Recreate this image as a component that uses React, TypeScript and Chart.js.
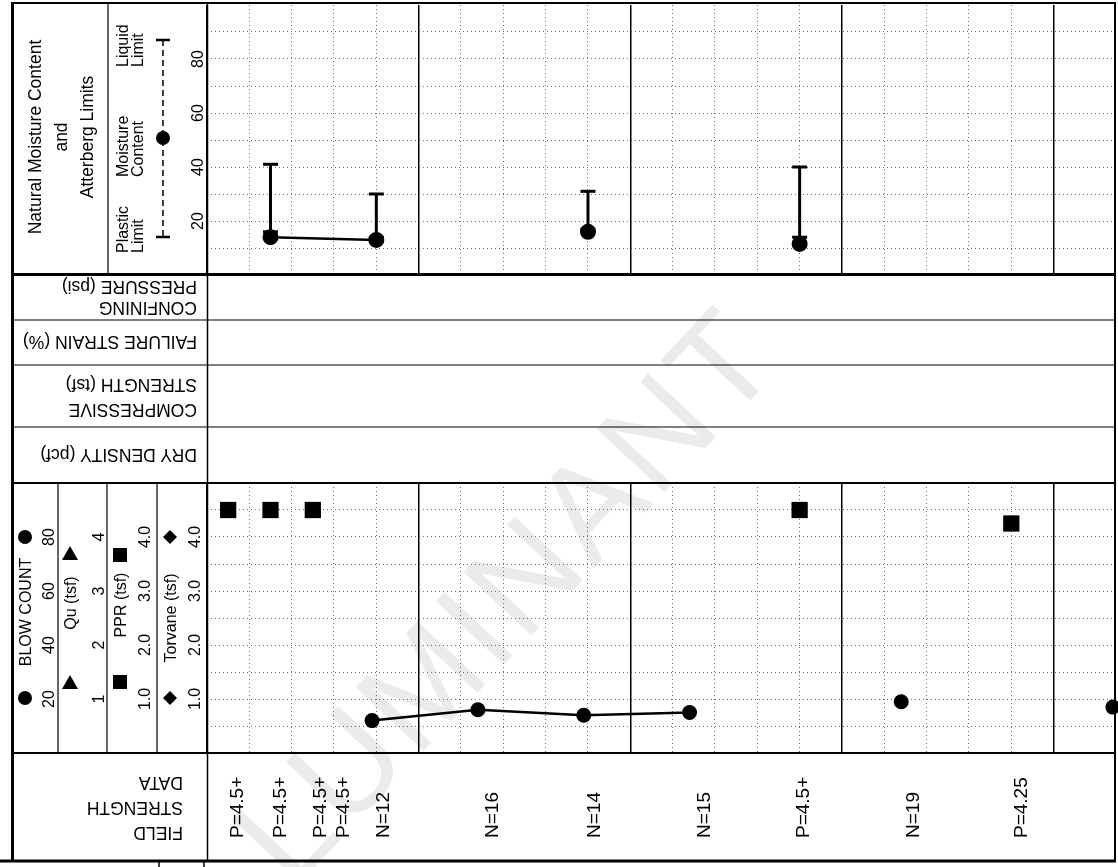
import React, { useEffect, useRef } from 'react';
import { Chart, registerables } from 'chart.js';
Chart.register(...registerables);

const FONT = 'Arial, "Liberation Sans", Helvetica, sans-serif';

// ---------------- data ----------------
// Natural moisture content & Atterberg limits (depth in ft)
const mcDepth = [1.5, 4.0, 9.0, 14.0];
const moistureContent = [14, 13, 16, 11.5];
const plasticLimit = [16, 14, 17, 14];
const liquidLimit = [41, 30, 31, 40];

// Blow count (N)
const blowDepth = [3.9, 6.4, 8.9, 11.4, 16.4, 21.4];
const blowCount = [12, 16, 14, 15, 19, 17];

// Pocket penetrometer (tsf)
const pprDepth = [0.5, 1.5, 2.5, 14.0, 19.0];
const pprValue = [4.5, 4.5, 4.5, 4.5, 4.25];

// Field strength data labels
const fieldDepth = [0.72, 1.75, 2.68, 3.22, 4.17, 6.74, 9.17, 11.76, 14.1, 16.7, 19.25];
const fieldLabels = ['P=4.5+', 'P=4.5+', 'P=4.5+', 'P=4.5+', 'N=12', 'N=16', 'N=14', 'N=15', 'P=4.5+', 'N=19', 'P=4.25'];

// axis settings / tick labels
const depthMin = 0;
const depthMax = 21.45;
const moistureTickLabels = [20, 40, 60, 80];
const blowTickLabels = [20, 40, 60, 80];
const quTickLabels = [1, 2, 3, 4];
const pprTickLabels = [1, 2, 3, 4];
const torvaneTickLabels = [1, 2, 3, 4];

// ---------------- helpers ----------------
const CLEAR = 'rgba(0,0,0,0)';
const DOT = '#6a6a6a';
const rnd = (v: number) => Math.round(v * 1000) / 1000;

const tickFont = { family: FONT, size: 16 };

const xMinorScale = () => ({
  type: 'linear',
  min: depthMin,
  max: depthMax,
  ticks: { display: false, stepSize: 1 },
  grid: {
    drawTicks: false,
    lineWidth: 1,
    color: (c: any) => {
      const v = rnd(c.tick ? c.tick.value : 0);
      if (!Number.isInteger(v) || v % 5 === 0) return CLEAR;
      return DOT;
    },
  },
  border: { display: false, dash: [1, 3] },
  afterFit: (s: any) => { s.height = 0; s.paddingLeft = 0; s.paddingRight = 0; },
});

const xMajorScale = () => ({
  type: 'linear',
  min: depthMin,
  max: depthMax,
  ticks: { display: false, stepSize: 5 },
  grid: {
    drawTicks: false,
    lineWidth: 1.5,
    color: (c: any) => {
      const v = rnd(c.tick ? c.tick.value : 0);
      return v % 5 === 0 ? '#000' : CLEAR;
    },
  },
  border: { display: false },
  afterFit: (s: any) => { s.height = 0; s.paddingLeft = 0; s.paddingRight = 0; },
});

const yAxis = (opts: any) => ({
  type: 'linear',
  position: 'left',
  weight: opts.weight,
  min: opts.min,
  max: opts.max,
  ticks: {
    stepSize: opts.step,
    autoSkip: false,
    minRotation: 90,
    maxRotation: 90,
    crossAlign: 'center',
    padding: opts.padding || 0,
    color: '#000',
    font: tickFont,
    callback: opts.callback,
  },
  grid: opts.grid
    ? {
        drawTicks: false,
        lineWidth: 1,
        color: (c: any) => {
          const v = rnd(c.tick ? c.tick.value : 0);
          return v === opts.min || v === opts.max ? CLEAR : DOT;
        },
      }
    : { display: false, drawTicks: false },
  border: { display: false, dash: [1, 3] },
  afterFit: (s: any) => { s.width = opts.width; s.paddingTop = 0; s.paddingBottom = 0; },
});

const gapSegment = (c: any) => (c.p1.parsed.x - c.p0.parsed.x > 3 ? CLEAR : '#000');

const fieldLabelPlugin = {
  id: 'fieldLabels',
  afterDraw(chart: any) {
    const { ctx } = chart;
    const x = chart.scales.x;
    ctx.save();
    ctx.font = `19px ${FONT}`;
    ctx.fillStyle = '#000';
    ctx.textAlign = 'left';
    ctx.textBaseline = 'middle';
    fieldDepth.forEach((d, i) => {
      ctx.save();
      ctx.translate(x.getPixelForValue(d), 838 - 480);
      ctx.rotate(-Math.PI / 2);
      ctx.fillText(fieldLabels[i], 0, 0);
      ctx.restore();
    });
    ctx.restore();
  },
};

// ---------------- static frame pieces ----------------
const L = (x1: number, y1: number, x2: number, y2: number, w: number, k: string) => (
  <line key={k} x1={x1} y1={y1} x2={x2} y2={y2} stroke="#000" strokeWidth={w} />
);

const flipText = (t: string, xr: number, y: number, k: string, size = 17.5) => (
  <text key={k} transform={`translate(${xr},${y}) rotate(180)`} textAnchor="start" dominantBaseline="central" fontSize={size}>{t}</text>
);

const upText = (t: string, x: number, y: number, k: string, size: number, anchor = 'middle') => (
  <text key={k} transform={`translate(${x},${y}) rotate(-90)`} textAnchor={anchor} dominantBaseline="central" fontSize={size}>{t}</text>
);

export default function App() {
  const topRef = useRef<HTMLCanvasElement>(null);
  const botRef = useRef<HTMLCanvasElement>(null);

  useEffect(() => {
    const attRange = mcDepth.flatMap((d, i) => [
      { x: d, y: plasticLimit[i] },
      { x: d, y: liquidLimit[i] },
    ]);
    const top = new Chart(topRef.current as HTMLCanvasElement, {
      type: 'line',
      data: {
        datasets: [
          {
            type: 'line',
            label: 'Moisture Content',
            data: mcDepth.map((d, i) => ({ x: d, y: moistureContent[i] })),
            borderColor: '#000',
            borderWidth: 2.5,
            pointRadius: 8,
            pointBackgroundColor: '#000',
            pointBorderColor: '#000',
            pointBorderWidth: 0,
            segment: { borderColor: gapSegment },
            order: 0,
            clip: false,
          } as any,
          {
            type: 'line',
            label: 'Atterberg range',
            data: attRange,
            borderColor: '#000',
            borderWidth: 3,
            pointRadius: 0,
            segment: { borderColor: (c: any) => (c.p0.parsed.x === c.p1.parsed.x ? '#000' : CLEAR) },
            order: 2,
          } as any,
          {
            type: 'scatter',
            label: 'Liquid Limit',
            data: mcDepth.map((d, i) => ({ x: d, y: liquidLimit[i] })),
            pointStyle: 'line',
            pointRadius: 7.5,
            pointBorderWidth: 3,
            pointBorderColor: '#000',
            showLine: false,
            order: 1,
          } as any,
          {
            type: 'scatter',
            label: 'Plastic Limit',
            data: mcDepth.map((d, i) => ({ x: d, y: plasticLimit[i] })),
            pointStyle: 'line',
            pointRadius: 7.5,
            pointBorderWidth: 3,
            pointBorderColor: '#000',
            showLine: false,
            order: 1,
          } as any,
        ],
      },
      options: {
        responsive: false,
        animation: false,
        events: [],
        layout: { autoPadding: false, padding: { left: 12, right: 3, top: 5, bottom: 5 } },
        plugins: { legend: { display: false }, tooltip: { enabled: false } },
        scales: {
          x: xMinorScale(),
          xMajor: xMajorScale(),
          y: yAxis({
            weight: 1, min: 0, max: 100, step: 10, width: 195, grid: true,
            callback: (v: number) => (moistureTickLabels.includes(rnd(v)) ? String(rnd(v)) : ''),
          }),
        } as any,
      },
    });

    const bot = new Chart(botRef.current as HTMLCanvasElement, {
      type: 'line',
      data: {
        datasets: [
          {
            type: 'line',
            label: 'Blow Count',
            yAxisID: 'yBlow',
            data: blowDepth.map((d, i) => ({ x: d, y: blowCount[i] })),
            borderColor: '#000',
            borderWidth: 2.5,
            pointRadius: 7.5,
            pointBackgroundColor: '#000',
            pointBorderColor: '#000',
            pointBorderWidth: 0,
            segment: { borderColor: gapSegment },
            clip: false,
          } as any,
          {
            type: 'scatter',
            label: 'PPR (tsf)',
            yAxisID: 'yPPR',
            data: pprDepth.map((d, i) => ({ x: d, y: pprValue[i] })),
            pointStyle: 'rect',
            pointRadius: 11.5,
            pointBackgroundColor: '#000',
            pointBorderColor: '#000',
            pointBorderWidth: 0,
            showLine: false,
            clip: false,
          } as any,
        ],
      },
      options: {
        responsive: false,
        animation: false,
        events: [],
        layout: { autoPadding: false, padding: { left: 12, right: 3, top: 3, bottom: 114 } },
        plugins: { legend: { display: false }, tooltip: { enabled: false } },
        scales: {
          x: xMinorScale(),
          xMajor: xMajorScale(),
          yBlow: yAxis({
            weight: 4, min: 0, max: 100, step: 10, width: 46, grid: true,
            callback: (v: number) => (blowTickLabels.includes(rnd(v)) ? String(rnd(v)) : ''),
          }),
          yQu: yAxis({
            weight: 3, min: 0, max: 5, step: 1, width: 49, padding: 3,
            callback: (v: number) => (quTickLabels.includes(rnd(v)) ? String(rnd(v)) : ''),
          }),
          yPPR: yAxis({
            weight: 2, min: 0, max: 5, step: 1, width: 50,
            callback: (v: number) => (pprTickLabels.includes(rnd(v)) ? rnd(v).toFixed(1) : ''),
          }),
          yTorvane: yAxis({
            weight: 1, min: 0, max: 5, step: 1, width: 50,
            callback: (v: number) => (torvaneTickLabels.includes(rnd(v)) ? rnd(v).toFixed(1) : ''),
          }),
        } as any,
      },
      plugins: [fieldLabelPlugin],
    });

    return () => {
      top.destroy();
      bot.destroy();
    };
  }, []);

  const W = 1118;
  const H = 867;

  return (
    <div style={{ position: 'absolute', left: 0, top: 0, width: W, height: H, background: '#fff', overflow: 'hidden', fontFamily: FONT }}>
      {/* watermark */}
      <svg width={W} height={H} style={{ position: 'absolute', left: 0, top: 0 }}>
        <text x={505} y={595} transform="rotate(-47 505 595)" textAnchor="middle" dominantBaseline="central" fontSize={135} fill="#ebebeb" fontFamily={FONT} letterSpacing={4}>LUMINANT</text>
      </svg>
      <canvas ref={topRef} width={W} height={280} style={{ position: 'absolute', left: 0, top: 0, width: W, height: 280 }} />
      <canvas ref={botRef} width={W} height={387} style={{ position: 'absolute', left: 0, top: 480, width: W, height: 387 }} />
      <svg width={W} height={H} style={{ position: 'absolute', left: 0, top: 0 }} fontFamily={FONT} fill="#000">
        {/* frame */}
        {L(12.5, 2, 12.5, 862, 3, 'lb')}
        {L(11, 3, 1116, 3, 2, 'tb')}
        {L(1115, 2, 1115, 862, 2, 'rb')}
        {L(11, 274.5, 1116, 274.5, 3, 'h1')}
        {L(12, 320, 1115, 320, 1.2, 'h2')}
        {L(12, 365, 1115, 365, 1.2, 'h3')}
        {L(12, 427, 1115, 427, 1.2, 'h4')}
        {L(12, 483, 1116, 483, 2, 'h5')}
        {L(12, 753, 1116, 753, 2, 'h6')}
        {L(0, 861, 1116, 861, 3, 'h7')}
        {L(207.5, 2, 207.5, 862, 1.5, 'v0')}
        {L(108, 2, 108, 275, 1.2, 'v1')}
        {L(58, 483, 58, 753, 1.2, 'v2')}
        {L(107, 483, 107, 753, 1.2, 'v3')}
        {L(157, 483, 157, 753, 1.2, 'v4')}
        {L(159, 862, 159, 867, 1.5, 'v5')}
        {L(204, 862, 204, 867, 1.5, 'v6')}

        {/* top-left titles */}
        <g transform="translate(61,137) rotate(-90)" fontSize={17.5}>
          <text x={0} y={-26} textAnchor="middle" dominantBaseline="central">Natural Moisture Content</text>
          <text x={0} y={0} textAnchor="middle" dominantBaseline="central">and</text>
          <text x={0} y={26} textAnchor="middle" dominantBaseline="central">Atterberg Limits</text>
        </g>
        {upText('Plastic', 122, 253, 'pl1', 16, 'start')}
        {upText('Limit', 137, 253, 'pl2', 16, 'start')}
        {upText('Moisture', 122, 177, 'mc1', 16, 'start')}
        {upText('Content', 137, 177, 'mc2', 16, 'start')}
        {upText('Liquid', 122, 67, 'll1', 16, 'start')}
        {upText('Limit', 137, 67, 'll2', 16, 'start')}
        <line x1={163} y1={40} x2={163} y2={237} stroke="#000" strokeWidth={1.5} strokeDasharray="6 4" />
        {L(156, 40, 170, 40, 2.5, 'llcap')}
        {L(156, 237, 170, 237, 2.5, 'plcap')}
        <circle cx={163} cy={138} r={7} fill="#000" />

        {/* middle row labels (upside down) */}
        {flipText('CONFINING', 197, 308, 'c1')}
        {flipText('PRESSURE (psi)', 197, 287, 'c2')}
        {flipText('FAILURE STRAIN (%)', 197, 342, 'f1')}
        {flipText('COMPRESSIVE', 197, 410, 's1')}
        {flipText('STRENGTH (tsf)', 197, 385, 's2')}
        {flipText('DRY DENSITY (pcf)', 197, 455, 'd1')}
        {flipText('FIELD', 183, 833, 'fd1')}
        {flipText('STRENGTH', 183, 808, 'fd2')}
        {flipText('DATA', 183, 783, 'fd3')}

        {/* bottom legend */}
        {upText('BLOW COUNT', 25, 612, 'bc', 16)}
        <circle cx={25} cy={698} r={7} fill="#000" />
        <circle cx={25} cy={537} r={7} fill="#000" />
        {upText('Qu (tsf)', 70, 603, 'qu', 16)}
        <polygon points="70,675 62,689 78,689" fill="#000" />
        <polygon points="70,546 62,560 78,560" fill="#000" />
        {upText('PPR (tsf)', 120, 605, 'ppr', 16)}
        <rect x={113} y={675} width={14} height={14} fill="#000" />
        <rect x={113} y={548} width={14} height={14} fill="#000" />
        {upText('Torvane (tsf)', 170, 618, 'tv', 16)}
        <polygon points="170,691 177,698 170,705 163,698" fill="#000" />
        <polygon points="170,530 177,537 170,544 163,537" fill="#000" />
      </svg>
    </div>
  );
}
